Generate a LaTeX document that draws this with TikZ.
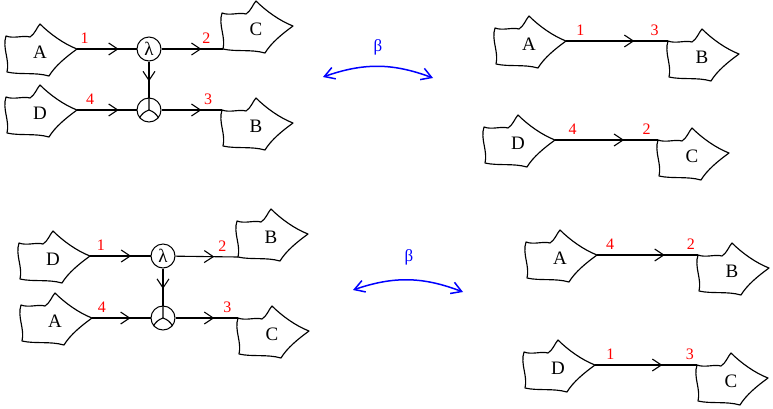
\documentclass[tikz,border=0pt]{standalone}
\usepackage{fontspec}
\setmainfont{Liberation Serif}
\usetikzlibrary{arrows.meta,decorations.markings}

\tikzset{
  blob/.pic={
    \draw[line width=1.15pt,line join=round] (-34,-16) .. controls (-26,-13) and (-17,-17) .. (-10,-15)
      .. controls (-5,-18) and (-3,-25) .. (0,-28)
      .. controls (10,-18) and (24,-8) .. (37,-3)
      .. controls (26,5) and (15,14) .. (9,24)
      .. controls (-5,20) and (-20,23) .. (-33,20)
      .. controls (-30,8) and (-38,-4) .. (-34,-16) -- cycle;
    \node[font=\fontsize{19}{19}\selectfont,inner sep=0pt] (-l) at (0,0) {#1};
    \coordinate (-tip) at (37,-3);
    \coordinate (-ul) at (-34,-16);
    \coordinate (-ll) at (-33,20);
  }
}

\begin{document}
\begin{tikzpicture}[x=1pt,y=-1pt]
    \tikzstyle{op}=[circle,draw,line width=1pt,minimum size=24pt,inner sep=0pt,font=\fontsize{19}{19}\selectfont]
    \tikzstyle{num}=[text=red,font=\fontsize{16}{16}\selectfont,above=3pt,inner sep=2pt]
    \tikzstyle{flow}=[line width=1.1pt]
    \tikzstyle{M}=[postaction=decorate,decoration={markings,mark=at position #1 with {\arrow[line width=1.1pt]{Straight Barb[length=9pt,width=12pt]}}}]
    \tikzstyle{betaarrow}=[blue,line width=1.5pt,{Straight Barb[length=10pt,width=12pt]}-{Straight Barb[length=10pt,width=12pt]}]
    \tikzstyle{betalabel}=[text=blue,font=\fontsize{17}{17}\selectfont]

    \useasboundingbox (0,0) rectangle (773,408);

    % top left
    \pic (A1) at (40,52) {blob=A};
    \pic (D1) at (40,113) {blob=D};
    \node [op] (L1) at (149,49) {λ};
    \node [op] (Y1) at (149,110) {};
    \pic (C1) at (256,29) {blob=C};
    \pic (B1) at (256,126) {blob=B};

    \draw [flow,M=0.7] (A1-tip) -- node [num,pos=0.13] {1} (L1);
    \draw [flow,M=0.65] (L1) -- node [num,pos=0.73] {2} (C1-ll);
    \draw [flow,M=0.7] (D1-tip) -- node [num,pos=0.22] {4} (Y1);
    \draw [flow,M=0.66] (Y1) -- node [num,pos=0.77] {3} (B1-ul);
    \draw [flow,M=0.55] (L1) -- (Y1);
    \draw [flow] (Y1.north) -- (Y1.center) to[bend right=20] (Y1.-140)
        (Y1.center) to[bend left=20] (Y1.-40);

    % top right
    \pic (A2) at (529,44) {blob=A};
    \pic (B2) at (702,57) {blob=B};
    \pic (D2) at (518,143) {blob=D};
    \pic (C2) at (692,156) {blob=C};

    \draw [flow,M=0.67] (A2-tip) -- node [num,pos=0.14] {1} node [num,pos=0.87] {3} (B2-ul);
    \draw [flow,M=0.67] (D2-tip) -- node [num,pos=0.17] {4} node [num,pos=0.89] {2} (C2-ul);

    % bottom left
    \pic (D3) at (53,259) {blob=D};
    \pic (A3) at (55,321) {blob=A};
    \node [op] (L3) at (163,256) {λ};
    \node [op] (Y3) at (163,318) {};
    \pic (B3) at (271,237) {blob=B};
    \pic (C3) at (272,334) {blob=C};

    \draw [flow,M=0.68] (D3-tip) -- node [num,pos=0.18] {1} (L3);
    \draw [flow,M=0.62] (L3) -- node [num,pos=0.75] {2} (B3-ll);
    \draw [flow,M=0.66] (A3-tip) -- node [num,pos=0.17] {4} (Y3);
    \draw [flow,M=0.62] (Y3) -- node [num,pos=0.83] {3} (C3-ul);
    \draw [flow,M=0.55] (L3) -- (Y3);
    \draw [flow] (Y3.north) -- (Y3.center) to[bend right=20] (Y3.-140)
        (Y3.center) to[bend left=20] (Y3.-40);

    % bottom right
    \pic (A4) at (560,258) {blob=A};
    \pic (B4) at (732,271) {blob=B};
    \pic (D4) at (558,368) {blob=D};
    \pic (C4) at (731,381) {blob=C};

    \draw [flow,M=0.67] (A4-tip) -- node [num,pos=0.13] {4} node [num,pos=0.93] {2} (B4-ul);
    \draw [flow,M=0.66] (D4-tip) -- node [num,pos=0.15] {1} node [num,pos=0.93] {3} (C4-ul);

    % beta
    \coordinate (bl1) at (323,77);
    \coordinate (br1) at (433,78);
    \draw [betaarrow] (bl1) to[bend left=20] (br1);
    \node [betalabel] (beta1) at (378,47) {β};

    \coordinate (bl2) at (353,290);
    \coordinate (br2) at (463,292);
    \draw [betaarrow] (bl2) to[bend left=20] (br2);
    \node [betalabel] (beta2) at (409,257) {β};
\end{tikzpicture}
\end{document}
